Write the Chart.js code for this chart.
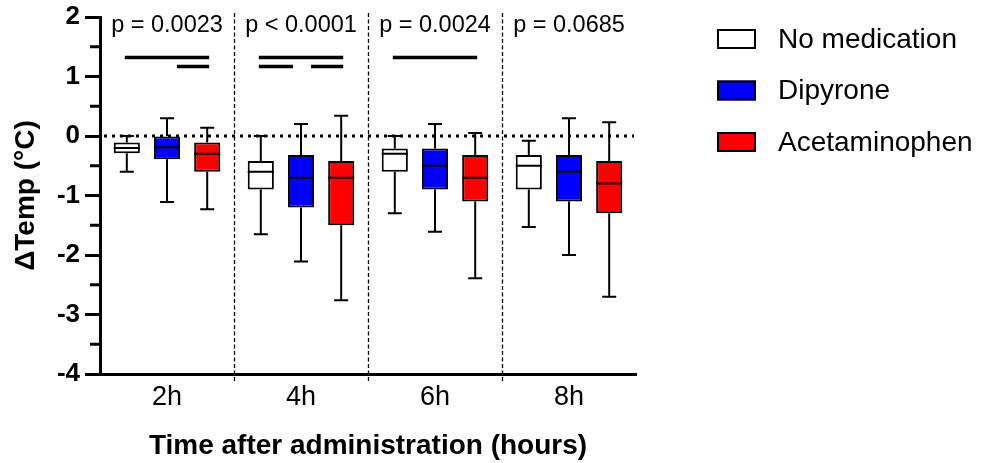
<!DOCTYPE html>
<html><head><meta charset="utf-8">
<script src="https://cdn.jsdelivr.net/npm/chart.js@4/dist/chart.umd.min.js"></script>
<style>html,body{margin:0;padding:0;background:#fff}</style>
</head><body>
<canvas id="c" width="993" height="463"></canvas>
<script>
// ---- data ----
const categories = ['2h', '4h', '6h', '8h'];
const seriesNames = ['No medication', 'Dipyrone', 'Acetaminophen'];
const seriesColors = ['#ffffff', '#0000ff', '#ff0000'];
// each entry: [min, q1, median, q3, max] per time point
const noMedication = [
  [-0.60, -0.29, -0.20, -0.11, 0.00],
  [-1.65, -0.90, -0.60, -0.42, 0.00],
  [-1.30, -0.60, -0.30, -0.21, 0.00],
  [-1.53, -0.90, -0.50, -0.32, -0.08]
];
const dipyrone = [
  [-1.11, -0.39, -0.19, 0.00, 0.30],
  [-2.11, -1.20, -0.70, -0.32, 0.20],
  [-1.61, -0.90, -0.50, -0.21, 0.20],
  [-2.00, -1.10, -0.60, -0.32, 0.30]
];
const acetaminophen = [
  [-1.23, -0.60, -0.30, -0.11, 0.14],
  [-2.76, -1.50, -0.70, -0.42, 0.34],
  [-2.39, -1.10, -0.70, -0.32, 0.05],
  [-2.70, -1.30, -0.80, -0.42, 0.23]
];
const pValues = ['p = 0.0023', 'p < 0.0001', 'p = 0.0024', 'p = 0.0685'];
const pLabelY = 1.75;
// significance bars: category index, from series, to series, level value
const sigCats = [0, 0, 1, 1, 1, 2];
const sigFrom = [0, 1, 0, 0, 1, 0];
const sigTo   = [2, 2, 2, 1, 2, 2];
const sigY    = [1.32, 1.17, 1.32, 1.17, 1.17, 1.32];
const yMin = -4, yMax = 2, yStep = 1;

const allSeries = [noMedication, dipyrone, acetaminophen];
const FONT = "'Liberation Sans', Arial, Helvetica, sans-serif";
Chart.defaults.font.family = FONT;
Chart.defaults.color = '#000';

const boxPlugin = {
  id: 'boxExtras',
  beforeDatasetsDraw(chart) {
    const {ctx, chartArea: a, scales: {x, y}} = chart;
    ctx.save();
    // dashed category dividers
    ctx.strokeStyle = '#000';
    ctx.lineWidth = 1.3;
    ctx.setLineDash([4, 2.5]);
    for (let i = 1; i < categories.length; i++) {
      const px = Math.round((x.getPixelForValue(i - 1) + x.getPixelForValue(i)) / 2) + 0.5;
      ctx.beginPath(); ctx.moveTo(px, a.top - 4); ctx.lineTo(px, a.bottom + 7); ctx.stroke();
    }
    // dotted zero line
    ctx.lineWidth = 3;
    ctx.setLineDash([3, 5]);
    const y0 = y.getPixelForValue(0);
    ctx.beginPath(); ctx.moveTo(a.left + 4, y0); ctx.lineTo(a.right - 2, y0); ctx.stroke();
    ctx.restore();
  },
  afterDatasetsDraw(chart) {
    const {ctx, scales: {y}} = chart;
    ctx.save();
    ctx.strokeStyle = '#000';
    ctx.lineWidth = 2;
    ctx.setLineDash([]);
    chart.data.datasets.forEach((ds, di) => {
      const meta = chart.getDatasetMeta(di);
      meta.data.forEach((bar, i) => {
        const s = ds.stats[i];
        const cx = bar.x, half = bar.width / 2;
        const pMin = y.getPixelForValue(s[0]), pQ1 = y.getPixelForValue(s[1]);
        const pMed = y.getPixelForValue(s[2]), pQ3 = y.getPixelForValue(s[3]);
        const pMax = y.getPixelForValue(s[4]);
        const cap = 7;
        ctx.beginPath();
        // whiskers
        ctx.moveTo(cx, pQ1); ctx.lineTo(cx, pMin);
        ctx.moveTo(cx - cap, pMin); ctx.lineTo(cx + cap, pMin);
        ctx.moveTo(cx, pQ3); ctx.lineTo(cx, pMax);
        ctx.moveTo(cx - cap, pMax); ctx.lineTo(cx + cap, pMax);
        // median
        ctx.moveTo(cx - half, pMed); ctx.lineTo(cx + half, pMed);
        ctx.stroke();
      });
    });
    ctx.restore();
  },
  afterDraw(chart) {
    const {ctx, chartArea: a, scales: {x, y}} = chart;
    ctx.save();
    // minor y ticks
    ctx.strokeStyle = '#000';
    ctx.lineWidth = 3;
    for (let v = yMin + yStep / 2; v < yMax; v += yStep) {
      const py = y.getPixelForValue(v);
      ctx.beginPath(); ctx.moveTo(a.left - 10, py); ctx.lineTo(a.left, py); ctx.stroke();
    }
    // p-values
    ctx.fillStyle = '#000';
    ctx.font = '23.5px ' + FONT;
    ctx.textAlign = 'center';
    ctx.textBaseline = 'alphabetic';
    pValues.forEach((t, i) => {
      ctx.fillText(t, x.getPixelForValue(i), y.getPixelForValue(pLabelY));
    });
    // significance bars
    ctx.lineWidth = 3.5;
    sigCats.forEach((c, k) => {
      const f = sigFrom[k], t = sigTo[k];
      const xf = chart.getDatasetMeta(f).data[c].x + (f === 1 ? 10 : -2);
      const xt = chart.getDatasetMeta(t).data[c].x + (t === 1 ? -8 : 2);
      const py = y.getPixelForValue(sigY[k]);
      ctx.beginPath(); ctx.moveTo(xf, py); ctx.lineTo(xt, py); ctx.stroke();
    });
    // legend
    const lx = a.right + 81;
    ctx.font = '28px ' + FONT;
    ctx.textAlign = 'left';
    ctx.textBaseline = 'middle';
    chart.data.datasets.forEach((ds, i) => {
      const cy = 39 + i * 51.5;
      ctx.fillStyle = ds.backgroundColor;
      ctx.fillRect(lx, cy - 10, 39, 20);
      ctx.lineWidth = 2;
      ctx.strokeRect(lx + 1, cy - 9, 37, 18);
      ctx.fillStyle = '#000';
      ctx.fillText(ds.label, lx + 61, cy + 1);
    });
    ctx.restore();
  }
};

new Chart(document.getElementById('c'), {
  type: 'bar',
  data: {
    labels: categories,
    datasets: allSeries.map((stats, i) => ({
      label: seriesNames[i],
      data: stats.map(s => [s[1], s[3]]),
      stats: stats,
      backgroundColor: seriesColors[i],
      borderColor: '#000',
      borderWidth: 2,
      borderSkipped: false,
      categoryPercentage: 0.9,
      barPercentage: 0.65
    }))
  },
  options: {
    responsive: false,
    animation: false,
    devicePixelRatio: 1,
    layout: { padding: { left: 0, right: 357, top: 17, bottom: 0 } },
    plugins: { legend: { display: false }, tooltip: { enabled: false } },
    scales: {
      x: {
        grid: { display: true, color: 'rgba(0,0,0,0)', drawTicks: false },
        border: { color: '#000', width: 3 },
        ticks: { color: '#000', font: { size: 27 }, padding: 7 },
        title: { display: true, text: 'Time after administration (hours)', color: '#000',
                 font: { size: 28, weight: 'bold' }, padding: { top: 0, bottom: 0 } },
        afterFit: s => { s.height = 89; }
      },
      y: {
        min: yMin, max: yMax,
        ticks: { stepSize: yStep, color: '#000', font: { size: 26, weight: 'bold', lineHeight: 0.9 }, padding: 5 },
        grid: { drawOnChartArea: false, tickLength: 15, tickWidth: 3, tickColor: '#000' },
        border: { color: '#000', width: 3 },
        title: { display: true, text: 'ΔTemp (°C)', color: '#000',
                 font: { size: 28, weight: 'bold' }, padding: { top: 9, bottom: 0 } },
        afterFit: s => { s.width = 100; }
      }
    }
  },
  plugins: [boxPlugin]
});
</script>
</body></html>
